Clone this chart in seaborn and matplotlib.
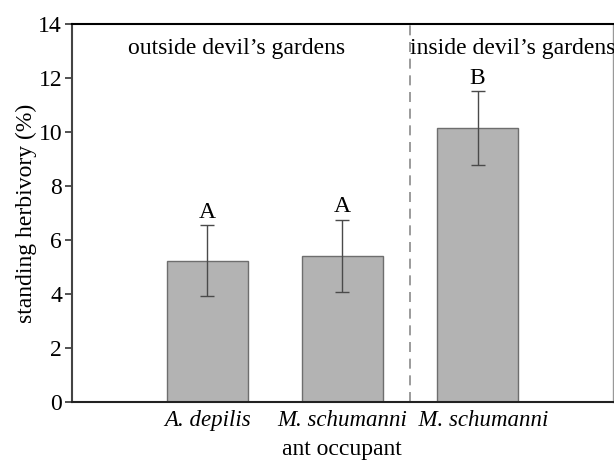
import pandas as pd
import matplotlib.pyplot as plt
import seaborn as sns

occupants = ["A. depilis", "M. schumanni", "  M. schumanni"]
herbivory = [5.23, 5.41, 10.15]
errors = [1.31, 1.34, 1.36]
letters = ["A", "A", "B"]
sections = ["outside devil\u2019s gardens", "inside devil\u2019s gardens"]


def draw_chart():
    sns.set_style("white")
    plt.rcParams["font.family"] = ["Liberation Serif", "DejaVu Serif"]
    plt.rcParams["text.color"] = "black"
    plt.rcParams["axes.labelcolor"] = "black"
    plt.rcParams["xtick.color"] = "black"
    plt.rcParams["ytick.color"] = "black"

    data = pd.DataFrame({"occupant": occupants, "herbivory": herbivory})

    fig = plt.figure(figsize=(6.14, 4.62), dpi=100)
    ax = fig.add_axes([0.117, 0.130, 0.881, 0.818])

    sns.barplot(
        data=data, x="occupant", y="herbivory", ax=ax,
        color="#b3b3b3", saturation=1, width=0.6,
        edgecolor="#6e6e6e", linewidth=1, errorbar=None
    )

    xs = range(len(occupants))
    ax.errorbar(
        xs, herbivory, yerr=errors, fmt="none",
        ecolor="#4a4a4a", elinewidth=1, capsize=5, capthick=1
    )

    for x, y, e, t in zip(xs, herbivory, errors, letters):
        ax.text(x, y + e + 0.1, t, ha="center", va="bottom", fontsize=17)

    ax.axvline(1.5, color="#8a8a8a", linestyle=(0, (6, 4)), linewidth=1.2)

    ax.text(0.22, 13.1, sections[0], ha="center", va="center", fontsize=17)
    ax.text(1.5, 13.1, sections[1], ha="left", va="center", fontsize=17)

    ax.set_xlim(-1, 3)
    ax.set_ylim(0, 14)
    ax.set_yticks(range(0, 15, 2))
    ax.tick_params(axis="y", direction="out", length=5, width=1.2,
                   color="#333333", labelsize=17, pad=2, left=True)
    ax.tick_params(axis="x", length=0, labelsize=16.5, pad=6)
    for lab in ax.get_xticklabels():
        lab.set_fontstyle("italic")

    ax.set_xlabel("ant occupant", fontsize=17, labelpad=5.5)
    ax.set_ylabel("standing herbivory (%)", fontsize=17, labelpad=1)

    ax.spines["left"].set_color("#444444")
    ax.spines["left"].set_linewidth(1.5)
    ax.spines["top"].set_color("black")
    ax.spines["top"].set_linewidth(1.5)
    ax.spines["bottom"].set_color("#222222")
    ax.spines["bottom"].set_linewidth(1.5)
    ax.spines["right"].set_color("#999999")
    ax.spines["right"].set_linewidth(1)

    plt.savefig("out.png", dpi=100)
    plt.close()


if __name__ == "__main__":
    draw_chart()
